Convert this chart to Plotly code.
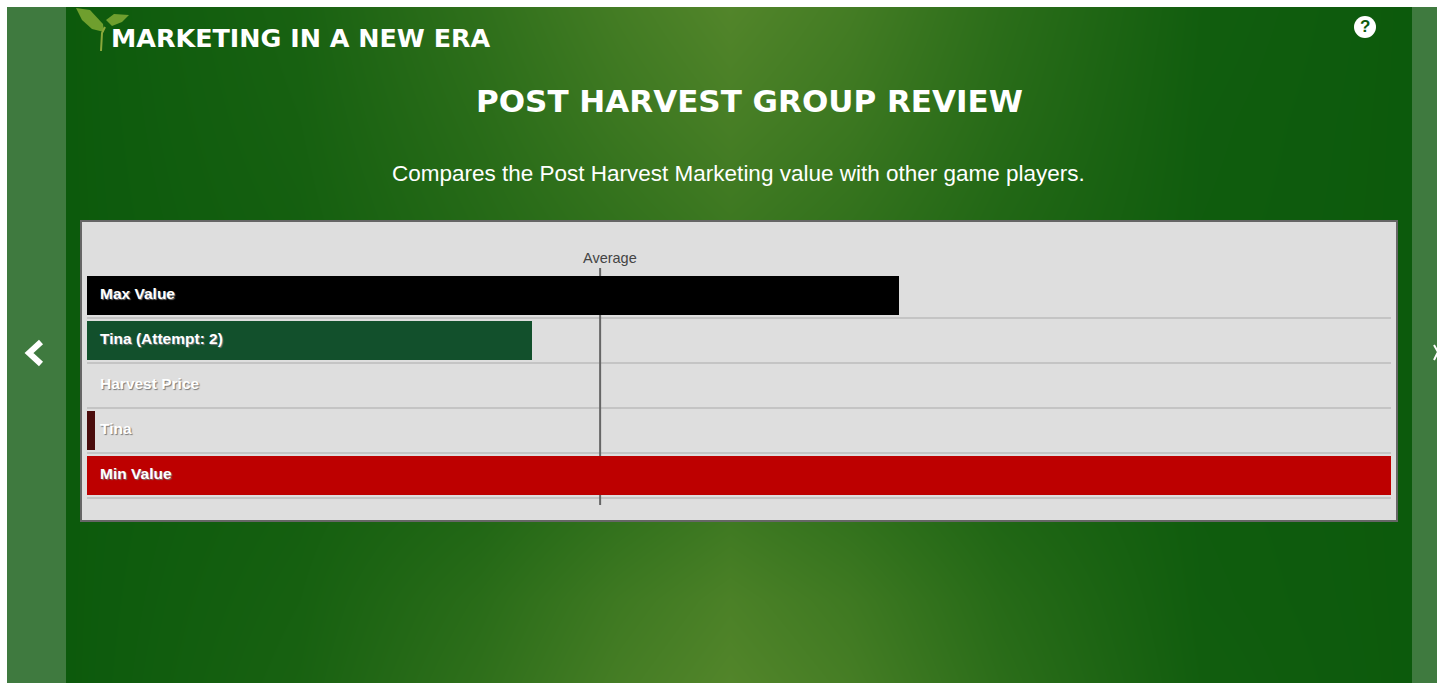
import plotly.graph_objects as go

categories = ["Max Value", "Tina (Attempt: 2)", "Harvest Price", "Tina", "Min Value"]
values = [62.3, 34.1, 0, 0.6, 100]
bar_colors = ["#000000", "#12502c", "#dedede", "#4a0c0c", "#bd0000"]
average_value = 39.35

W, H = 1442, 683
# background gradient, sampled by eye
bg_x = [66, 300, 480, 620, 730, 850, 1000, 1200, 1412]
bg_y = [7, 120, 220, 520, 600, 683]
bg_z = [
    [0.00, 0.18, 0.50, 0.80, 1.00, 0.80, 0.45, 0.08, 0.00],
    [0.00, 0.15, 0.42, 0.68, 0.85, 0.68, 0.38, 0.06, 0.00],
    [0.00, 0.12, 0.35, 0.55, 0.70, 0.55, 0.30, 0.05, 0.00],
    [0.00, 0.12, 0.30, 0.55, 0.72, 0.55, 0.28, 0.05, 0.00],
    [0.00, 0.15, 0.42, 0.72, 0.90, 0.72, 0.38, 0.06, 0.00],
    [0.00, 0.18, 0.50, 0.82, 1.00, 0.82, 0.45, 0.08, 0.00],
]
px = lambda v: v / W
py = lambda v: 1 - v / H

fig = go.Figure()
fig.add_trace(go.Heatmap(x=bg_x, y=bg_y, z=bg_z, xaxis="x", yaxis="y", zmin=0, zmax=1,
                         zsmooth="best", showscale=False, hoverinfo="skip",
                         colorscale=[[0, "#0c5a0c"], [1, "#52852a"]]))
fig.add_trace(go.Bar(y=categories, x=values, orientation="h", width=0.867, xaxis="x2", yaxis="y2",
                     marker=dict(color=bar_colors, line=dict(width=0)), hoverinfo="skip"))
fig.add_trace(go.Scatter(y=categories, x=[1.0] * 5, mode="text", text=categories, xaxis="x2", yaxis="y2",
                         textposition="middle right", hoverinfo="skip", cliponaxis=False,
                         textfont=dict(family="Liberation Sans", size=15.5, color="#ffffff",
                                       weight="bold", shadow="1px 1px 1px #777777")))

shapes = []
def rect(x0, y0, x1, y1, fill):
    shapes.append(dict(type="rect", xref="paper", yref="paper", x0=px(x0), x1=px(x1), y0=py(y0), y1=py(y1),
                       fillcolor=fill, line=dict(width=0), layer="below"))
rect(7, 7, 66, 683, "#3f7a3f")
rect(1412, 7, 1437, 683, "#3f7a3f")
# panel, drawn in the data subplot so that it covers the background subplot
shapes.append(dict(type="rect", xref="x2", yref="y2", x0=-0.537, x1=100.537, y0=-1.678, y1=5.033,
                   fillcolor="#dedede", line=dict(color="#666666", width=4), layer="below"))
for i in range(5):
    shapes.append(dict(type="line", xref="x2", yref="y2", x0=0, x1=100, y0=i + 0.5, y1=i + 0.5,
                       line=dict(color="#c4c4c4", width=2), layer="below"))
shapes.append(dict(type="line", xref="x2", yref="y2", x0=average_value, x1=average_value, y0=-0.611, y1=4.656,
                   line=dict(color="#666666", width=2), layer="below"))
fig.update_layout(shapes=shapes)

def pth(points, close=True):
    s = "M " + " L ".join(f"{px(a):.5f},{py(b):.5f}" for a, b in points)
    return s + (" Z" if close else "")

# leaf, chevrons, help icon
for pts, col in [
    ([(76, 8), (90, 10), (103, 24), (104, 32), (92, 29), (82, 20)], "#6f9f2e"),
    ([(106, 20), (114, 14), (129, 15), (122, 22), (112, 26)], "#6f9f2e"),
]:
    fig.add_shape(type="path", xref="paper", yref="paper", path=pth(pts), fillcolor=col, line=dict(width=0))
fig.add_shape(type="path", xref="paper", yref="paper", path=pth([(105, 27), (102, 33), (101, 51)], False),
              line=dict(color="#8aa83a", width=2))
fig.add_shape(type="path", xref="paper", yref="paper", path=pth([(41, 342), (29, 353), (41, 364)], False),
              line=dict(color="#ffffff", width=6))
fig.add_shape(type="path", xref="paper", yref="paper", path=pth([(1434, 345), (1438, 352), (1434, 360)], False),
              line=dict(color="#ffffff", width=2))
fig.add_shape(type="circle", xref="paper", yref="paper", x0=px(1354), x1=px(1376), y0=py(38), y1=py(16),
              fillcolor="#ffffff", line=dict(width=0))

def ann(text, x, y, size, family, color="#ffffff", weight="normal", anchor="center"):
    fig.add_annotation(text=text, xref="paper", yref="paper", x=px(x), y=py(y), showarrow=False,
                       xanchor=anchor, yanchor="middle",
                       font=dict(family=family, size=size, color=color, weight=weight))
ann("MARKETING IN A NEW ERA", 109, 38, 25.4, "DejaVu Sans", weight="bold", anchor="left")
ann("POST HARVEST GROUP REVIEW", 749.5, 101, 31, "DejaVu Sans", weight="bold")
ann("Compares the Post Harvest Marketing value with other game players.", 738.5, 173, 22.5, "Liberation Sans")
ann("Average", 610, 258, 14.5, "Liberation Sans", color="#444444")
ann("?", 1365, 27, 17, "Liberation Sans", color="#0c5a0c", weight="bold")

fig.update_layout(
    width=W, height=H, margin=dict(l=0, r=0, t=0, b=0), paper_bgcolor="#ffffff", plot_bgcolor="rgba(0,0,0,0)",
    showlegend=False, bargap=0,
    xaxis=dict(domain=[px(66), px(1412)], range=[66, 1412], visible=False, fixedrange=True),
    yaxis=dict(domain=[0, py(7)], range=[683, 7], visible=False, fixedrange=True),
    xaxis2=dict(domain=[px(80), px(1398)], range=[-0.537, 100.537], visible=False, anchor="y2", fixedrange=True),
    yaxis2=dict(domain=[py(522), py(220)], range=[5.033, -1.678], type="category",
                categoryorder="array", categoryarray=categories, visible=False, anchor="x2", fixedrange=True),
)
fig.write_html("out.html", post_script="document.body.style.margin='0';", config=dict(displayModeBar=False))
